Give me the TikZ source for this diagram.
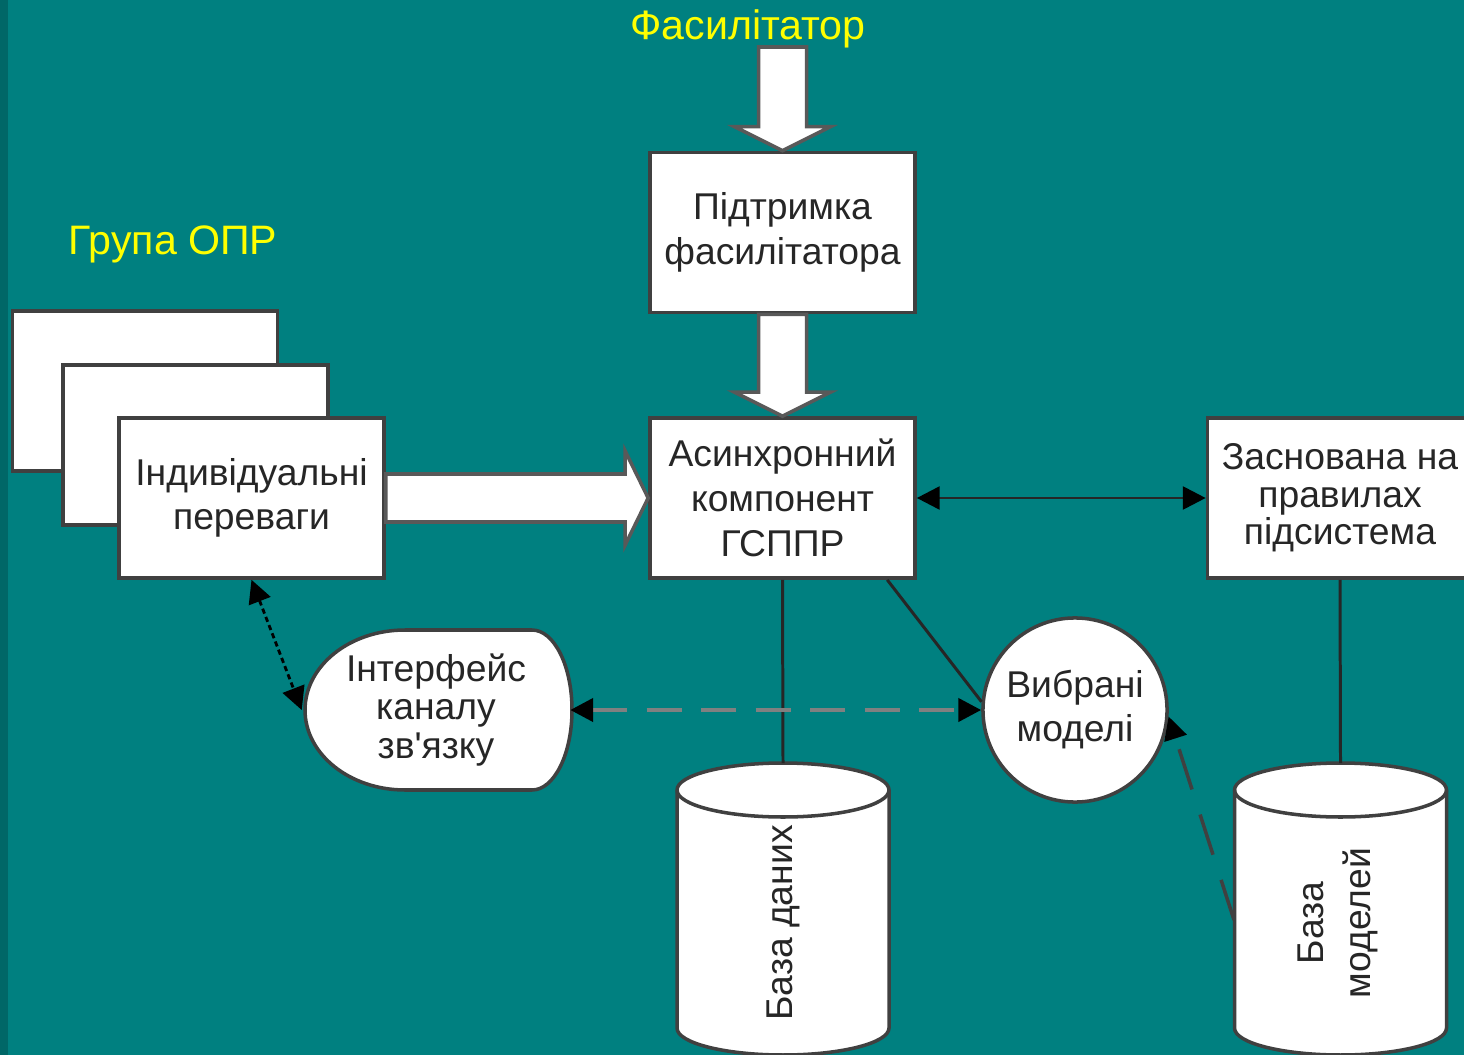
\documentclass[tikz,border=0pt]{standalone}
\usepackage{fontspec}
\setmainfont{Liberation Sans}
\usetikzlibrary{arrows.meta,calc,positioning}
\definecolor{tealbg}{HTML}{008080}
\definecolor{labelyellow}{HTML}{FFFF00}
\newcommand{\blockdown}[2]{% shaft start, tip
  \draw[blockarrow] ($(#1)+(-24,0)$) -- ($(#2)+(-24,-24)$) -- ($(#2)+(-48,-24)$) -- (#2)
    -- ($(#2)+(48,-24)$) -- ($(#2)+(24,-24)$) -- ($(#1)+(24,0)$) -- cycle;}
\begin{document}
\begin{tikzpicture}[x=0.01cm,y=-0.01cm,
    >={Triangle[length=6.5pt,width=6.5pt,color=black]},
    every node/.style={font=\fontsize{10.6}{12.7}\selectfont,text=black!85},
    box/.style={draw=black!75,line width=1pt,fill=white,align=center,
      minimum width=2.65cm,minimum height=1.6cm,inner sep=2pt},
    yellowlabel/.style={text=labelyellow,font=\fontsize{11.7}{14}\selectfont},
    blockarrow/.style={draw=black!65,line width=1pt,fill=white},
    link/.style={draw=black!85,line width=0.85pt},
    greydash/.style={draw=gray,line width=1.3pt,dash pattern=on 10pt off 5.5pt},
    finedash/.style={draw=black,line width=0.8pt,dash pattern=on 1.5pt off 1pt},
    hatchdash/.style={draw=black!75,line width=1pt,dash pattern=on 12pt off 7.5pt},
    cyl/.style={draw=black!75,line width=1pt,fill=white}]
  % background
  \fill[tealbg] (0,0) rectangle (1464,1055);
  \fill[tealbg!80!black] (0,0) rectangle (8,1055);
  \useasboundingbox (0,0) rectangle (1464,1055);

  % labels and boxes
  \node (facil) [yellowlabel] at (748,29) {Фасилітатор};
  \node (group) [yellowlabel] at (173,244) {Група ОПР};
  \coordinate (facilfoot) at (782.5,47);
  \node (fsupport) [box] at (782.5,232.5) {Підтримка\\фасилітатора};
  \node (async) [box] at (782.5,498) {Асинхронний\\компонент\\ГСППР};
  \node (rules) [box,font=\fontsize{10.6}{10.7}\selectfont] at (1340,498) {Заснована на\\правилах\\підсистема};
  \node (back1) [box] at (145,391) {};
  \node (back2) [box] at (195.5,445) {};
  \node (indiv) [box] at (251.5,498) {Індивідуальні\\переваги};

  % block arrows
  \blockdown{facilfoot}{fsupport.north}
  \blockdown{fsupport.south}{async.north}
  \draw[blockarrow] ($(indiv.east)+(0,-24)$) -- ($(async.west)+(-23,-24)$) -- ($(async.west)+(-23,-47)$)
    -- (async.west) -- ($(async.west)+(-23,47)$) -- ($(async.west)+(-23,24)$) -- ($(indiv.east)+(0,24)$) -- cycle;

  % interface shape
  \draw[cyl] (405,630) -- (532,630) arc (-90:90:40 and 80) -- (405,790) arc (90:270:100 and 80) -- cycle;
  \node (iface) [minimum width=2.67cm,minimum height=1.6cm,inner sep=0pt,align=center,
    font=\fontsize{10.6}{10.9}\selectfont] at (436,710) {Інтерфейс\\каналу\\зв\textquotesingle язку};

  \node (chosen) [circle,draw=black!75,line width=1pt,fill=white,minimum size=1.84cm,inner sep=0pt,
    align=center,font=\fontsize{10.6}{12.5}\selectfont] at (1075,710) {Вибрані\\моделі};

  % cylinders
  \foreach \cx/\nm in {783/db,1340.5/mb}{
    \draw[cyl] (\cx-106,790) -- (\cx-106,1028) arc (180:0:106 and 27) -- (\cx+106,790)
      arc (0:-180:106 and 27) -- cycle;
    \draw[cyl,fill=none] (\cx-106,790) arc (180:0:106 and 27);
    \coordinate (\nm top) at (\cx,763);
  }
  \node (db) [rotate=90] at (783,923) {База даних};
  \node (mb) [rotate=90,align=center,font=\fontsize{10.6}{13.5}\selectfont] at (1338,923) {База\\моделей};
  \coordinate (mbside) at (1234,920);

  % connectors
  \draw[link,<->] (async.east) -- (rules.west);
  \draw[link] (async.south) -- (dbtop);
  \draw[link] (rules.south) -- (mbtop);
  \draw[link] (async.-38.5) -- (chosen.175);
  \draw[greydash,<->] (iface.east) -- (chosen.west);
  \draw[finedash,<->] (indiv.south) -- (iface.west);
  \draw[hatchdash,->] (mbside) -- (chosen.-4);
\end{tikzpicture}
\end{document}
